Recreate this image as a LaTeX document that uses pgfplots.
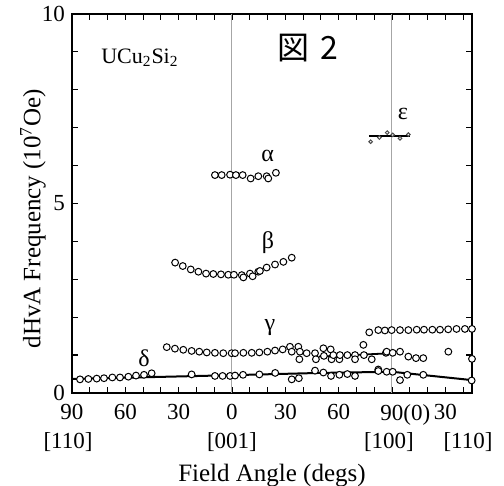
\documentclass[border=0pt]{standalone}
\usepackage{fontspec}
\setmainfont{Liberation Serif}
\newfontfamily\jpfont{Noto Sans CJK JP}
\usepackage{pgfplots}
\pgfplotsset{compat=1.18}

\begin{document}
\begin{tikzpicture}
\useasboundingbox (-36pt,-46.5pt) rectangle (216pt,196.5pt);
\begin{axis}[
  at={(0,0)}, anchor=south west,
  scale only axis, width=200pt, height=189.5pt,
  xmin=-90, xmax=135, ymin=0, ymax=10,
  clip=false,
  axis line style={line width=0.8pt},
  tick style={black, line width=0.6pt},
  tick align=inside,
  major tick length=3pt, minor tick length=3pt,
  xtick={-90,-60,-30,0,30,60,90,120},
  xticklabels={90,60,30,0,30,60,90\rlap{(0)},30},
  minor xtick={-80,-70,-50,-40,-20,-10,10,20,40,50,70,80,100,110,130},
  ytick={0,5,10}, yticklabels={0,5,10},
  minor ytick={1,2,3,4,6,7,8,9},
  tick label style={font=\fontsize{11.5}{14}\selectfont},
  xticklabel style={yshift=-2pt},
  xlabel={Field Angle (degs)},
  ylabel={dHvA Frequency (10\textsuperscript{7}Oe)},
  every axis x label/.style={at={(axis description cs:0.5,0)}, anchor=center,
    yshift=-41.5pt, font=\fontsize{12.5}{15}\selectfont},
  every axis y label/.style={at={(axis description cs:-0.0975,0.46)}, anchor=center,
    rotate=90, font=\fontsize{12.5}{15}\selectfont},
  circ/.style={only marks, mark=*, mark size=1.7pt,
    mark options={fill=white, draw=black, line width=0.5pt}},
]
% guide lines at [001] and [100]
\draw[gray!70, line width=0.5pt] (axis cs:0,0) -- (axis cs:0,10);
\draw[gray!70, line width=0.5pt] (axis cs:90,0) -- (axis cs:90,10);

% fitted curves
\addplot[black, line width=1pt] coordinates {
  (-90,0.37) (-45,0.42) (0,0.47) (50,0.53) (90,0.56) (135,0.34)};
\addplot[black, line width=0.9pt] coordinates {(49,0.96) (90,1.05)};
\addplot[black, line width=1pt] coordinates {(77,6.78) (100,6.78)};

% alpha
\addplot[circ] coordinates {
  (-9.6,5.75) (-5.8,5.75) (-1.1,5.76) (2.2,5.75) (6,5.75) (10.5,5.66)
  (14.8,5.72) (19.5,5.72) (20.4,5.66) (24.7,5.81)};
% beta
\addplot[circ] coordinates {
  (-32,3.44) (-27.7,3.35) (-23.2,3.26) (-18.9,3.20) (-14.6,3.15) (-10.5,3.14)
  (-6.2,3.13) (-2.1,3.12) (1.1,3.12) (5.5,3.11) (6.4,3.05) (10.1,3.15)
  (11.6,3.08) (14.8,3.20) (15.7,3.22) (19.5,3.31) (24.2,3.39) (28.9,3.46) (33.6,3.57)};
% gamma
\addplot[circ] coordinates {
  (-36.7,1.21) (-32.1,1.17) (-27.4,1.14) (-22.7,1.11) (-18.4,1.09) (-14.2,1.07)
  (-9.6,1.06) (-4.9,1.05) (-0.2,1.05) (1.7,1.05) (6.4,1.06) (11.1,1.06)
  (15.4,1.07) (19.9,1.09) (24.2,1.12) (28.5,1.15) (32.6,1.22) (33.6,1.09)
  (37.3,1.22) (37.9,0.89) (38.2,1.09) (42,1.05) (46.7,1.05) (47.2,0.89)
  (51.4,1.18) (51.7,0.98) (55.5,1.15) (56,0.89) (57,1.00) (60.4,0.89)
  (60.7,1.00) (64.9,1.00) (69.2,1.00) (69.2,0.89) (73.9,1.27) (74.2,1.00)
  (78.6,0.89) (86.6,1.06) (87,1.09) (90.4,1.06) (94.5,1.09) (99.2,0.96)
  (103.5,0.92) (107.6,0.92) (121.7,1.09) (135,0.90)
  (77.2,1.60) (82.3,1.66) (86,1.65) (89.8,1.66) (94.5,1.66) (99.2,1.66)
  (103.9,1.67) (108,1.67) (112.7,1.67) (117,1.67) (121.6,1.68) (126.3,1.69)
  (131,1.69) (135,1.69)};
% delta
\addplot[circ] coordinates {
  (-85.5,0.36) (-80.8,0.37) (-76.1,0.38) (-72,0.39) (-67.3,0.41) (-63,0.41)
  (-58.3,0.43) (-54,0.46) (-49.5,0.48) (-45.2,0.52) (-22.7,0.49) (-9.6,0.45)
  (-5.3,0.45) (-1.1,0.45) (1.7,0.46) (6.2,0.48) (15.4,0.49) (24.3,0.53)
  (33.6,0.36) (37.6,0.39) (46.7,0.59) (51.4,0.54) (55.7,0.45) (60.4,0.48)
  (64.9,0.50) (69.2,0.45) (82.3,0.62) (82.3,0.58) (87,0.56) (90.4,0.56)
  (94.5,0.34) (98.6,0.48) (107.6,0.48) (134.8,0.33)};
% epsilon
\addplot[only marks, mark=*, mark size=0.9pt,
  mark options={fill=white, draw=black!70, line width=0.5pt}] coordinates {
  (78,6.63) (82.9,6.74) (87.3,6.87) (90.4,6.81) (94.5,6.72) (99.2,6.82)};

% labels
\node[font=\fontsize{11}{13}\selectfont] at (axis cs:-51.8,8.84) {UCu\textsubscript{2}Si\textsubscript{2}};
\node[font=\fontsize{16}{18}\selectfont] at (axis cs:42.7,9.1) {\jpfont 図\,\,2};
\node[font=\fontsize{12}{14}\selectfont] at (axis cs:20,6.25) {α};
\node[font=\fontsize{12}{14}\selectfont] at (axis cs:20.2,3.96) {β};
\node[font=\fontsize{12}{14}\selectfont] at (axis cs:21.4,1.74) {γ};
\node[font=\fontsize{12}{14}\selectfont] at (axis cs:-49.5,0.92) {δ};
\node[font=\fontsize{12}{14}\selectfont] at (axis cs:96.2,7.36) {ε};

% crystal directions
\node[font=\fontsize{11.5}{14}\selectfont, yshift=-24.4pt, xshift=-2pt] at (axis cs:-90,0) {[110]};
\node[font=\fontsize{11.5}{14}\selectfont, yshift=-24.4pt] at (axis cs:0,0) {[001]};
\node[font=\fontsize{11.5}{14}\selectfont, yshift=-24.4pt, xshift=-1.5pt] at (axis cs:90,0) {[100]};
\node[font=\fontsize{11.5}{14}\selectfont, yshift=-24.4pt, xshift=-2pt] at (axis cs:135,0) {[110]};
\end{axis}
\end{tikzpicture}
\end{document}
